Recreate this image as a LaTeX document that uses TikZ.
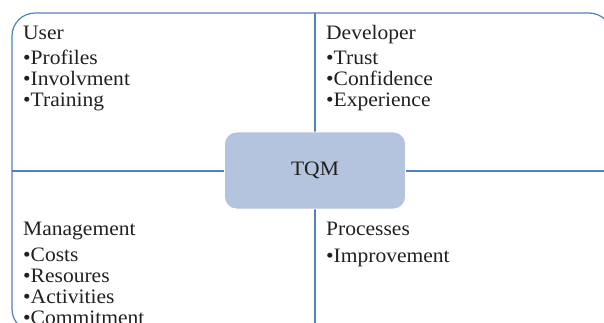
\documentclass[tikz,border=0pt]{standalone}
\usepackage{fontspec}
\setmainfont{Liberation Serif}[FakeStretch=1.05]
\definecolor{frameblue}{HTML}{4F81BD}
\definecolor{boxfill}{HTML}{B4C4DE}
\definecolor{txt}{HTML}{231F20}
\begin{document}
\begin{tikzpicture}[x=1pt,y=-1pt,
  lbl/.style={anchor=base west,inner sep=0pt,text=txt,font=\fontsize{20.5}{21}\selectfont},
  frameline/.style={draw=frameblue,line width=1.2pt},
  hub/.style={draw=white,line width=0.8pt,fill=boxfill,rounded corners=12pt,minimum width=181pt,minimum height=77pt,inner sep=0pt,text=txt,font=\fontsize{20.5}{21}\selectfont}]
\useasboundingbox (0,0) rectangle (604,322);
\begin{scope}
\clip (0,0) rectangle (604,322);
\draw[frameline,rounded corners=23pt] (12,13) rectangle (612,332);
\coordinate (top) at (315,13);
\coordinate (bot) at (315,332);
\coordinate (lft) at (12,171);
\coordinate (rgt) at (612,171);
\draw[frameline] (top) -- (bot);
\draw[frameline] (lft) -- (rgt);
\end{scope}
\node[hub] (tqm) at (315,170.5) {TQM};
\node[lbl] (user) at (23,39) {User};
\node[lbl] (u1) at (23,64) {\textbullet Profiles};
\node[lbl] (u2) at (23,85) {\textbullet Involvment};
\node[lbl] (u3) at (23,106) {\textbullet Training};
\node[lbl] (dev) at (326,39) {Developer};
\node[lbl] (d1) at (326,64) {\textbullet Trust};
\node[lbl] (d2) at (326,85) {\textbullet Confidence};
\node[lbl] (d3) at (326,106) {\textbullet Experience};
\node[lbl] (mgmt) at (23,235) {Management};
\node[lbl] (m1) at (23,261) {\textbullet Costs};
\node[lbl] (m2) at (23,282) {\textbullet Resoures};
\node[lbl] (m3) at (23,303) {\textbullet Activities};
\node[lbl] (m4) at (23,324) {\textbullet Commitment};
\node[lbl] (proc) at (326,235) {Processes};
\node[lbl] (p1) at (326,262) {\textbullet Improvement};
\end{tikzpicture}
\end{document}
